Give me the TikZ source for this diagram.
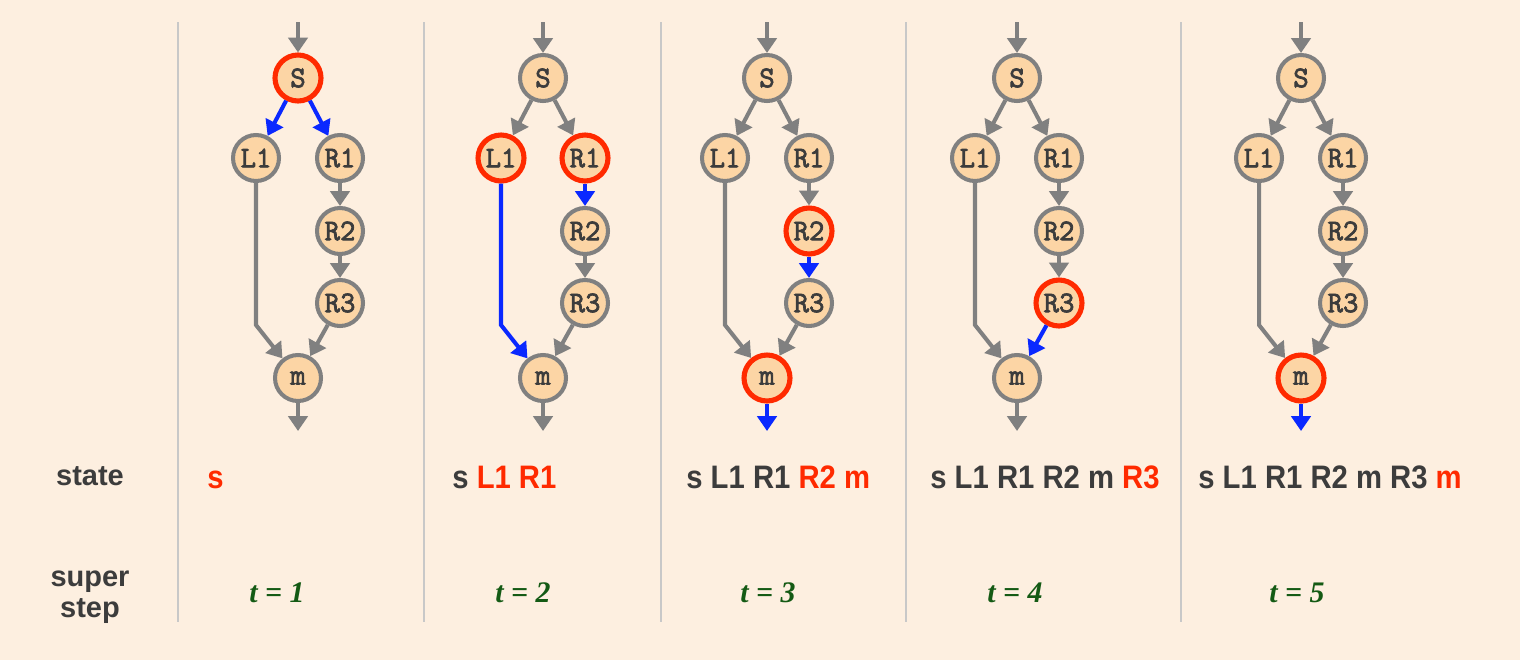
\documentclass[tikz,border=0pt]{standalone}
\usepackage{fontspec}
\setmainfont{Liberation Sans}
\newfontfamily\statefont[FakeStretch=0.9]{Liberation Sans}
\newfontfamily\stepfont{Liberation Serif}
\newfontfamily\nodefont[FakeBold=2.5]{Latin Modern Mono}
\usetikzlibrary{arrows.meta}

\definecolor{bgpeach}{HTML}{FDEFE0}
\definecolor{nodepeach}{HTML}{FCD5A5}
\definecolor{edgegray}{HTML}{808080}
\definecolor{hotred}{HTML}{FF2A00}
\definecolor{flowblue}{HTML}{0A28FF}
\definecolor{textgray}{HTML}{3C3C3C}
\definecolor{stepgreen}{HTML}{145A14}
\definecolor{sepgray}{HTML}{C8C8C8}

\tikzset{
  vertex/.style={circle, draw=edgegray, line width=2.3pt, fill=nodepeach,
    minimum size=0.92cm, inner sep=0pt, text=textgray,
    font=\nodefont\fontsize{17}{17}\selectfont},
  hot/.style={draw=hotred, line width=2.9pt},
  edge/.style={draw=edgegray, line width=2.3pt, -{Triangle[length=8.5pt,width=11pt]}},
  flow/.style={edge, draw=flowblue},
  sepline/.style={draw=sepgray, line width=1.6pt},
  rowlabel/.style={text=textgray, inner sep=0pt, align=center,
    font=\bfseries\fontsize{16.5}{17.5}\selectfont},
  staterow/.style={anchor=base west, text=textgray, inner sep=0pt,
    font=\statefont\bfseries\fontsize{18.5}{19}\selectfont},
  steplabel/.style={anchor=base, text=stepgreen, inner sep=0pt,
    font=\stepfont\bfseries\itshape\fontsize{17}{18}\selectfont}
}

\begin{document}
\begin{tikzpicture}[x=0.02cm, y=-0.02cm]
  \fill[bgpeach] (0,0) rectangle (1520,660);
  \useasboundingbox (0,0) rectangle (1520,660);
  % separators
  \draw[sepline] (178,22) -- (178,622);
  \draw[sepline] (424,22) -- (424,622);
  \draw[sepline] (661,22) -- (661,622);
  \draw[sepline] (906,22) -- (906,622);
  \draw[sepline] (1181,22) -- (1181,622);
  % row labels
  \node[rowlabel, anchor=base] (state) at (90,485) {state};
  \node[rowlabel] (super) at (90,597) {super\\step};

  % t = 1
  \begin{scope}[shift={(0,0)}]
    \node[vertex, hot] (S-1) at (298,78) {S};
    \node[vertex] (L1-1) at (256,158) {L1};
    \node[vertex] (R1-1) at (340,158) {R1};
    \node[vertex] (R2-1) at (340,231) {R2};
    \node[vertex] (R3-1) at (340,303) {R3};
    \node[vertex] (m-1) at (298,378) {m};
    \coordinate (in-1) at (298,22);
    \coordinate (out-1) at (298,431);
    \coordinate (bend-1) at (256,325);
    \draw[edge] (in-1) -- (S-1);
    \draw[flow] (S-1) -- (L1-1);
    \draw[flow] (S-1) -- (R1-1);
    \draw[edge] (R1-1) -- (R2-1);
    \draw[edge] (R2-1) -- (R3-1);
    \draw[edge] (L1-1) -- (bend-1) -- (m-1);
    \draw[edge] (R3-1) -- (m-1);
    \draw[edge] (m-1) -- (out-1);
  \end{scope}
  \node[staterow] (st-1) at (207,488) {\textcolor{hotred}{s}};
  \node[steplabel] (t-1) at (277,602) {t = 1};

  % t = 2
  \begin{scope}[shift={(245,0)}]
    \node[vertex] (S-2) at (298,78) {S};
    \node[vertex, hot] (L1-2) at (256,158) {L1};
    \node[vertex, hot] (R1-2) at (340,158) {R1};
    \node[vertex] (R2-2) at (340,231) {R2};
    \node[vertex] (R3-2) at (340,303) {R3};
    \node[vertex] (m-2) at (298,378) {m};
    \coordinate (in-2) at (298,22);
    \coordinate (out-2) at (298,431);
    \coordinate (bend-2) at (256,325);
    \draw[edge] (in-2) -- (S-2);
    \draw[edge] (S-2) -- (L1-2);
    \draw[edge] (S-2) -- (R1-2);
    \draw[flow] (R1-2) -- (R2-2);
    \draw[edge] (R2-2) -- (R3-2);
    \draw[flow] (L1-2) -- (bend-2) -- (m-2);
    \draw[edge] (R3-2) -- (m-2);
    \draw[edge] (m-2) -- (out-2);
  \end{scope}
  \node[staterow] (st-2) at (452,488) {s \textcolor{hotred}{L1 R1}};
  \node[steplabel] (t-2) at (523,602) {t = 2};

  % t = 3
  \begin{scope}[shift={(469,0)}]
    \node[vertex] (S-3) at (298,78) {S};
    \node[vertex] (L1-3) at (256,158) {L1};
    \node[vertex] (R1-3) at (340,158) {R1};
    \node[vertex, hot] (R2-3) at (340,231) {R2};
    \node[vertex] (R3-3) at (340,303) {R3};
    \node[vertex, hot] (m-3) at (298,378) {m};
    \coordinate (in-3) at (298,22);
    \coordinate (out-3) at (298,431);
    \coordinate (bend-3) at (256,325);
    \draw[edge] (in-3) -- (S-3);
    \draw[edge] (S-3) -- (L1-3);
    \draw[edge] (S-3) -- (R1-3);
    \draw[edge] (R1-3) -- (R2-3);
    \draw[flow] (R2-3) -- (R3-3);
    \draw[edge] (L1-3) -- (bend-3) -- (m-3);
    \draw[edge] (R3-3) -- (m-3);
    \draw[flow] (m-3) -- (out-3);
  \end{scope}
  \node[staterow] (st-3) at (686,488) {s L1 R1 \textcolor{hotred}{R2 m}};
  \node[steplabel] (t-3) at (768,602) {t = 3};

  % t = 4
  \begin{scope}[shift={(719,0)}]
    \node[vertex] (S-4) at (298,78) {S};
    \node[vertex] (L1-4) at (256,158) {L1};
    \node[vertex] (R1-4) at (340,158) {R1};
    \node[vertex] (R2-4) at (340,231) {R2};
    \node[vertex, hot] (R3-4) at (340,303) {R3};
    \node[vertex] (m-4) at (298,378) {m};
    \coordinate (in-4) at (298,22);
    \coordinate (out-4) at (298,431);
    \coordinate (bend-4) at (256,325);
    \draw[edge] (in-4) -- (S-4);
    \draw[edge] (S-4) -- (L1-4);
    \draw[edge] (S-4) -- (R1-4);
    \draw[edge] (R1-4) -- (R2-4);
    \draw[edge] (R2-4) -- (R3-4);
    \draw[edge] (L1-4) -- (bend-4) -- (m-4);
    \draw[flow] (R3-4) -- (m-4);
    \draw[edge] (m-4) -- (out-4);
  \end{scope}
  \node[staterow] (st-4) at (930,488) {s L1 R1 R2 m \textcolor{hotred}{R3}};
  \node[steplabel] (t-4) at (1015,602) {t = 4};

  % t = 5
  \begin{scope}[shift={(1003,0)}]
    \node[vertex] (S-5) at (298,78) {S};
    \node[vertex] (L1-5) at (256,158) {L1};
    \node[vertex] (R1-5) at (340,158) {R1};
    \node[vertex] (R2-5) at (340,231) {R2};
    \node[vertex] (R3-5) at (340,303) {R3};
    \node[vertex, hot] (m-5) at (298,378) {m};
    \coordinate (in-5) at (298,22);
    \coordinate (out-5) at (298,431);
    \coordinate (bend-5) at (256,325);
    \draw[edge] (in-5) -- (S-5);
    \draw[edge] (S-5) -- (L1-5);
    \draw[edge] (S-5) -- (R1-5);
    \draw[edge] (R1-5) -- (R2-5);
    \draw[edge] (R2-5) -- (R3-5);
    \draw[edge] (L1-5) -- (bend-5) -- (m-5);
    \draw[edge] (R3-5) -- (m-5);
    \draw[flow] (m-5) -- (out-5);
  \end{scope}
  \node[staterow] (st-5) at (1198,488) {s L1 R1 R2 m R3 \textcolor{hotred}{m}};
  \node[steplabel] (t-5) at (1297,602) {t = 5};
\end{tikzpicture}
\end{document}
